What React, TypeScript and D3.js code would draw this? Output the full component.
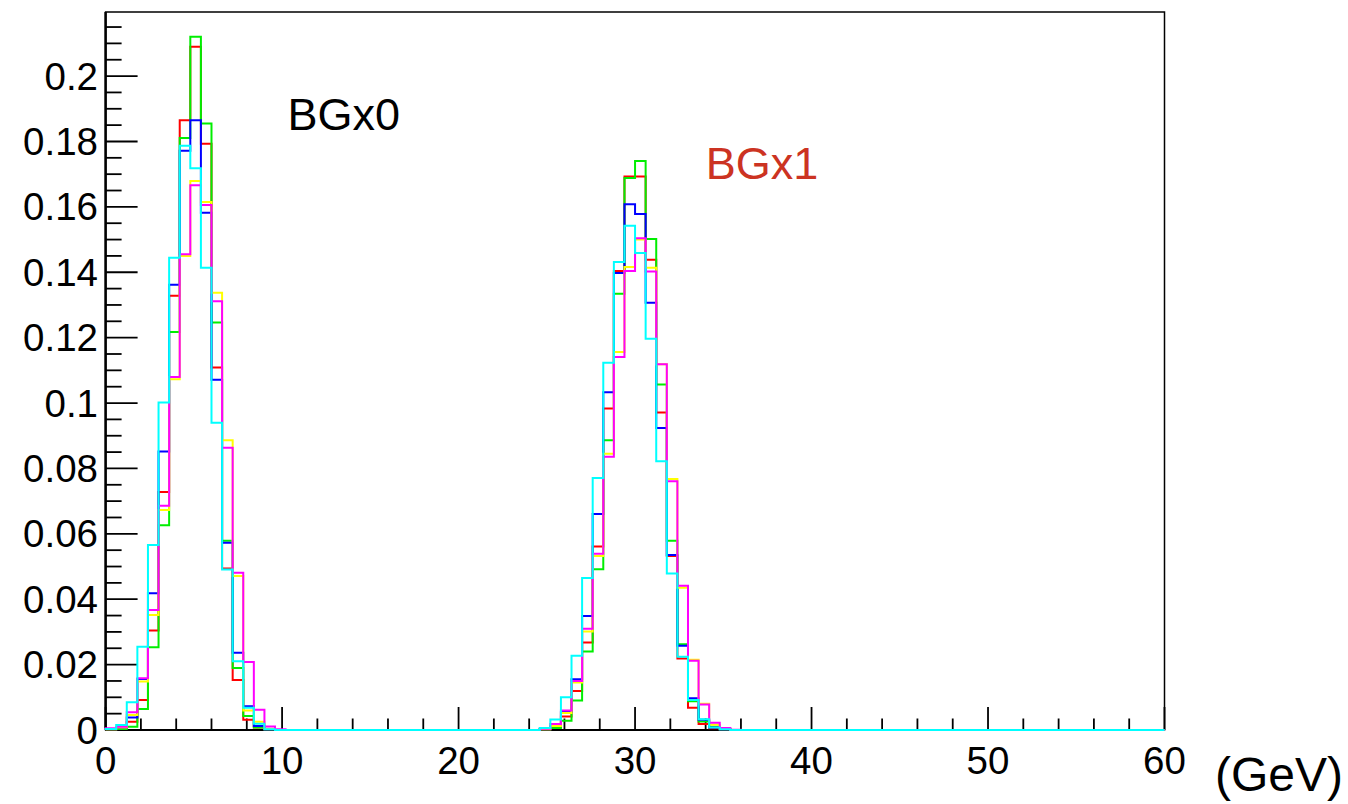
import React, { useEffect, useRef } from "react";
import * as d3 from "d3";

// Histogram binning: 100 bins of 0.6 GeV from 0 to 60
const X_MIN = 0;
const X_MAX = 60;
const N_BINS = 100;
const Y_MAX = 0.2196;

// first peak starts at bin 0, second peak starts at bin 41
const PEAK1_START = 0;
const PEAK2_START = 41;

const redPeak1 = [0.0002, 0.0005, 0.0025, 0.0092, 0.0304, 0.0728, 0.1328, 0.1865, 0.209, 0.1793, 0.1109, 0.0494, 0.0153, 0.0031, 0.0008, 0.0002, 0];
const greenPeak1 = [0.0002, 0.0003, 0.001, 0.0064, 0.0253, 0.0626, 0.1217, 0.1811, 0.212, 0.1855, 0.1246, 0.0579, 0.019, 0.0043, 0.0008, 0.0002, 0];
const bluePeak1 = [0.0002, 0.0007, 0.0038, 0.0156, 0.0418, 0.0852, 0.1362, 0.1772, 0.1865, 0.1582, 0.1071, 0.0573, 0.0236, 0.0073, 0.0012, 0.0002, 0];
const yellowPeak1 = [0.0002, 0.0008, 0.0046, 0.0148, 0.0352, 0.0673, 0.1073, 0.145, 0.1679, 0.1615, 0.1337, 0.0886, 0.0471, 0.006, 0.0025, 0.0004, 0];
const magentaPeak1 = [0.0005, 0.001, 0.0054, 0.0158, 0.0367, 0.0686, 0.108, 0.1455, 0.1666, 0.1606, 0.1311, 0.0863, 0.0481, 0.0208, 0.0062, 0.0011, 0.0002];
const cyanPeak1 = [0.0003, 0.0015, 0.0085, 0.0255, 0.0566, 0.1002, 0.1444, 0.1787, 0.1718, 0.1414, 0.094, 0.0491, 0.021, 0.0068, 0.0019, 0.0002, 0];

const redPeak2 = [0.0002, 0.0009, 0.0041, 0.0119, 0.0268, 0.0561, 0.0983, 0.1404, 0.1693, 0.1693, 0.1438, 0.0971, 0.0532, 0.0219, 0.0068, 0.0018, 0.0005, 0.0002, 0];
const greenPeak2 = [0.0002, 0.0006, 0.0028, 0.009, 0.024, 0.0492, 0.0886, 0.1334, 0.1688, 0.174, 0.1502, 0.1057, 0.0579, 0.0262, 0.0088, 0.0026, 0.001, 0.0002, 0];
const bluePeak2 = [0.0002, 0.0012, 0.0056, 0.0155, 0.0349, 0.0661, 0.1033, 0.1398, 0.1608, 0.1578, 0.1307, 0.0924, 0.0535, 0.0258, 0.0097, 0.0031, 0.0008, 0.0002, 0];
const yellowPeak2 = [0.0002, 0.0012, 0.0052, 0.0145, 0.0301, 0.0532, 0.0845, 0.1156, 0.1416, 0.15, 0.1414, 0.1119, 0.0768, 0.0435, 0.0215, 0.008, 0.0016, 0.0004, 0];
const magentaPeak2 = [0.0004, 0.0018, 0.006, 0.015, 0.031, 0.0539, 0.0836, 0.1141, 0.1404, 0.1504, 0.1402, 0.1119, 0.0761, 0.0441, 0.0212, 0.0078, 0.0022, 0.0006, 0.0001];
const cyanPeak2 = [0.0006, 0.0032, 0.01, 0.0227, 0.0465, 0.0771, 0.1123, 0.1431, 0.1542, 0.1459, 0.1197, 0.0822, 0.0479, 0.0224, 0.0092, 0.0033, 0.0008, 0.0002, 0];

const seriesNames = ["red", "green", "blue", "yellow", "magenta", "cyan"];
const seriesColors = ["#ff0000", "#00ee00", "#0000ff", "#ffff00", "#ff00ff", "#00ffff"];
const seriesPeak1 = [redPeak1, greenPeak1, bluePeak1, yellowPeak1, magentaPeak1, cyanPeak1];
const seriesPeak2 = [redPeak2, greenPeak2, bluePeak2, yellowPeak2, magentaPeak2, cyanPeak2];

const xTickValues = [0, 10, 20, 30, 40, 50, 60];
const yTickValues = [0, 0.02, 0.04, 0.06, 0.08, 0.1, 0.12, 0.14, 0.16, 0.18, 0.2];
const yTickLabels = ["0", "0.02", "0.04", "0.06", "0.08", "0.1", "0.12", "0.14", "0.16", "0.18", "0.2"];

const labels = [
  { text: "BGx0", x: 10.3, y: 0.1835, color: "#000000" },
  { text: "BGx1", x: 34.0, y: 0.1685, color: "#cc3322" },
];

function buildBins(p1: number[], p2: number[]): number[] {
  const arr = new Array(N_BINS).fill(0);
  p1.forEach((v, i) => (arr[PEAK1_START + i] = v));
  p2.forEach((v, i) => (arr[PEAK2_START + i] = v));
  return arr;
}

export default function App() {
  const ref = useRef<SVGSVGElement>(null);

  useEffect(() => {
    const W = 1348;
    const H = 804;
    const left = 105.6;
    const right = 1164.5;
    const top = 12;
    const bottom = 730;
    const svg = d3.select(ref.current!);
    svg.selectAll("*").remove();

    const x = d3.scaleLinear().domain([X_MIN, X_MAX]).range([left, right]);
    const y = d3.scaleLinear().domain([0, Y_MAX]).range([bottom, top]);
    const font = "'Liberation Sans', Arial, Helvetica, sans-serif";

    svg.append("rect").attr("width", W).attr("height", H).attr("fill", "#fff");

    // frame
    svg
      .append("rect")
      .attr("x", left)
      .attr("y", top)
      .attr("width", right - left)
      .attr("height", bottom - top)
      .attr("fill", "none")
      .attr("stroke", "#000")
      .attr("stroke-width", 1.5);

    // y axis
    const yMinor = d3.range(0, Y_MAX + 1e-9, 0.005);
    const gy = svg.append("g");
    gy.append("line")
      .attr("x1", left).attr("x2", left).attr("y1", top).attr("y2", bottom)
      .attr("stroke", "#000").attr("stroke-width", 2.5);
    yMinor.forEach((v) => {
      const isMajor = Math.abs(v / 0.02 - Math.round(v / 0.02)) < 1e-6;
      gy.append("line")
        .attr("x1", left).attr("x2", left + (isMajor ? 32 : 16))
        .attr("y1", y(v)).attr("y2", y(v))
        .attr("stroke", "#000").attr("stroke-width", 1.8);
    });
    yTickValues.forEach((v, i) => {
      gy.append("text")
        .attr("x", 98).attr("y", y(v) + 13.5)
        .attr("text-anchor", "end")
        .attr("font-family", font).attr("font-size", 38.5)
        .attr("fill", "#000")
        .text(yTickLabels[i]);
    });

    // x axis
    const gx = svg.append("g");
    gx.append("line")
      .attr("x1", left).attr("x2", right).attr("y1", bottom).attr("y2", bottom)
      .attr("stroke", "#000").attr("stroke-width", 2);
    d3.range(0, 61, 2).forEach((v) => {
      const isMajor = v % 10 === 0;
      gx.append("line")
        .attr("x1", x(v)).attr("x2", x(v))
        .attr("y1", bottom).attr("y2", bottom - (isMajor ? 23 : 11.5))
        .attr("stroke", "#000").attr("stroke-width", 1.8);
    });
    xTickValues.forEach((v) => {
      gx.append("text")
        .attr("x", x(v)).attr("y", 774)
        .attr("text-anchor", "middle")
        .attr("font-family", font).attr("font-size", 38.5)
        .attr("fill", "#000")
        .text(String(v));
    });
    svg.append("text")
      .attr("x", 1343).attr("y", 791)
      .attr("text-anchor", "end")
      .attr("font-family", font).attr("font-size", 48)
      .attr("fill", "#000")
      .text("(GeV)");

    // histograms
    const binW = (X_MAX - X_MIN) / N_BINS;
    seriesNames.forEach((name, si) => {
      const bins = buildBins(seriesPeak1[si], seriesPeak2[si]);
      const pts: [number, number][] = [[x(X_MIN), y(0)]];
      bins.forEach((v, i) => {
        pts.push([x(X_MIN + i * binW), y(v)]);
        pts.push([x(X_MIN + (i + 1) * binW), y(v)]);
      });
      pts.push([x(X_MAX), y(0)]);
      svg.append("path")
        .attr("class", "hist-" + name)
        .attr("d", d3.line()(pts)!)
        .attr("fill", "none")
        .attr("stroke", seriesColors[si])
        .attr("stroke-width", 2);
    });

    labels.forEach((l) => {
      svg.append("text")
        .attr("x", x(l.x)).attr("y", y(l.y))
        .attr("font-family", font).attr("font-size", 45)
        .attr("fill", l.color)
        .text(l.text);
    });
  }, []);

  return (
    <svg
      ref={ref}
      width={1348}
      height={804}
      style={{ position: "absolute", left: 0, top: 0, display: "block" }}
    />
  );
}
